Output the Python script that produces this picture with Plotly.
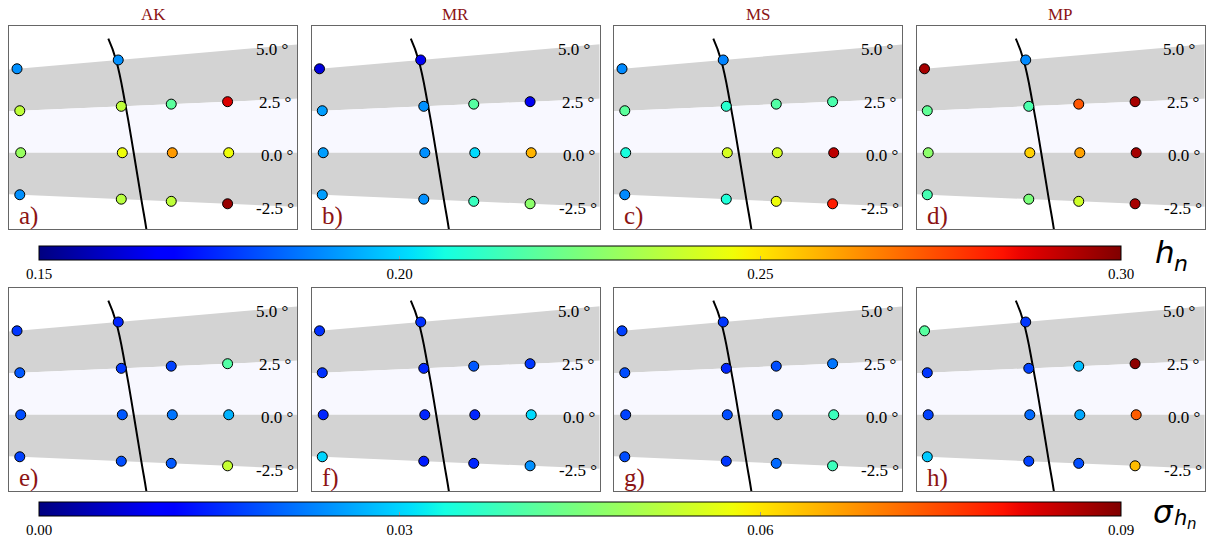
import numpy as np
import plotly.graph_objects as go

# ---- data -------------------------------------------------------------
models = ["AK", "MR", "MS", "MP"]
panel_tags_top = ["a)", "b)", "c)", "d)"]
panel_tags_bot = ["e)", "f)", "g)", "h)"]

# station grid: latitude (deg) and radial distance of every station
station_lat = [5.0, 2.5, 0.0, -2.5, 5.0, 2.5, 0.0, -2.5, 2.5, 0.0, -2.5, 2.5, 0.0, -2.5]
station_r = [9.667, 9.667, 9.667, 9.667, 10.683, 10.683, 10.683, 10.683,
             11.183, 11.183, 11.183, 11.747, 11.747, 11.747]

# h_n per model
hn_AK = [0.190, 0.237, 0.230, 0.190, 0.190, 0.237, 0.246, 0.236, 0.219, 0.262, 0.237, 0.288, 0.246, 0.297]
hn_MR = [0.162, 0.192, 0.192, 0.192, 0.165, 0.190, 0.190, 0.190, 0.218, 0.201, 0.213, 0.165, 0.258, 0.228]
hn_MS = [0.189, 0.219, 0.207, 0.189, 0.188, 0.210, 0.2415, 0.208, 0.2175, 0.2415, 0.246, 0.216, 0.292, 0.282]
hn_MP = [0.295, 0.220, 0.228, 0.215, 0.189, 0.216, 0.2535, 0.225, 0.273, 0.261, 0.240, 0.295, 0.295, 0.295]

# sigma(h_n) per model
sig_AK = [0.016, 0.019, 0.018, 0.017, 0.0145, 0.016, 0.019, 0.018, 0.017, 0.0215, 0.019, 0.0405, 0.027, 0.053]
sig_MR = [0.0155, 0.0155, 0.0145, 0.030, 0.0155, 0.0145, 0.0145, 0.0135, 0.019, 0.0145, 0.0145, 0.016, 0.0305, 0.024]
sig_MS = [0.017, 0.018, 0.017, 0.018, 0.016, 0.0145, 0.018, 0.016, 0.018, 0.020, 0.0205, 0.0215, 0.038, 0.038]
sig_MP = [0.041, 0.016, 0.017, 0.029, 0.016, 0.017, 0.0205, 0.017, 0.028, 0.026, 0.018, 0.089, 0.073, 0.064]

# reference curve (latitude, radial distance)
curve_lat = [6.2, 5.0, 2.5, 0.0, -2.5, -4.0, -5.5]
curve_r = [10.605, 10.662, 10.727, 10.797, 10.885, 10.950, 11.015]

# latitude circles labelled on the map and band edges
lat_ticks = [5.0, 2.5, 0.0, -2.5]
lat_tick_text = ["5.0 °", "2.5 °", "0.0 °", "-2.5 °"]

hn_ticks = [0.15, 0.20, 0.25, 0.30]
sig_ticks = [0.00, 0.03, 0.06, 0.09]

# ---- styling ----------------------------------------------------------
W, H = 1212, 543
SERIF = "Liberation Serif"
DARKRED = "rgb(140,20,20)"

# matplotlib-style jet colour map
def jet_scale(n=65):
    t = np.linspace(0, 1, n)
    r = np.interp(t, [0, 0.35, 0.66, 0.89, 1], [0, 0, 1, 1, 0.5])
    g = np.interp(t, [0, 0.125, 0.375, 0.64, 0.91, 1], [0, 0, 1, 1, 0, 0])
    b = np.interp(t, [0, 0.11, 0.34, 0.65, 1], [0.5, 1, 1, 0, 0])
    return [[float(ti), f"rgb({int(round(ri*255))},{int(round(gi*255))},{int(round(bi*255))})"]
            for ti, ri, gi, bi in zip(t, r, g, b)]

JET = jet_scale()

panel_left = [9, 311.5, 614, 916.5]
panel_w = 288
row_top = [26, 289]
panel_h = 204
x_range = [9.55, 12.43]
y_range = [-0.767, 1.273]


def polar_xy(r, lat):
    th = np.deg2rad(np.asarray(lat, dtype=float))
    r = np.asarray(r, dtype=float)
    return r * np.cos(th), r * np.sin(th)


fig = go.Figure()

rows = [
    (models, [hn_AK, hn_MR, hn_MS, hn_MP], panel_tags_top, "coloraxis"),
    (models, [sig_AK, sig_MR, sig_MS, sig_MP], panel_tags_bot, "coloraxis2"),
]

annotations = []
k = 0
for ri, (names, vals, tags, cax) in enumerate(rows):
    for ci in range(4):
        k += 1
        xa = "x" if k == 1 else f"x{k}"
        ya = "y" if k == 1 else f"y{k}"

        # latitude bands
        bands = [(2.5, 5.0, "rgb(211,211,211)"), (0.0, 2.5, "rgb(248,248,255)"),
                 (-2.5, 0.0, "rgb(211,211,211)")]
        for lo, hi, col in bands:
            rr = [8.5, 13.5, 13.5, 8.5, 8.5]
            ll = [lo, lo, hi, hi, lo]
            bx, by = polar_xy(rr, ll)
            fig.add_trace(go.Scatter(x=bx, y=by, xaxis=xa, yaxis=ya, mode="lines",
                                     fill="toself", fillcolor=col, line=dict(width=0),
                                     hoverinfo="skip", showlegend=False))

        # reference curve
        cx, cy = polar_xy(curve_r, curve_lat)
        fig.add_trace(go.Scatter(x=cx, y=cy, xaxis=xa, yaxis=ya, mode="lines",
                                 line=dict(color="black", width=2, shape="spline",
                                           smoothing=1.3),
                                 hoverinfo="skip", showlegend=False))

        # stations
        sx, sy = polar_xy(station_r, station_lat)
        fig.add_trace(go.Scatter(x=sx, y=sy, xaxis=xa, yaxis=ya, mode="markers",
                                 marker=dict(size=10, color=vals[ci], coloraxis=cax,
                                             line=dict(color="black", width=1)),
                                 showlegend=False))

        # latitude labels
        for lat, txt in zip(lat_ticks, lat_tick_text):
            lx, ly = polar_xy(12.225, lat)
            annotations.append(dict(x=float(lx), y=float(ly), xref=xa, yref=ya, text=txt,
                                    showarrow=False, yshift=-3,
                                    font=dict(family=SERIF, size=17, color="black")))

        x0 = panel_left[ci] / W
        x1 = (panel_left[ci] + panel_w) / W
        y1 = 1 - row_top[ri] / H
        y0 = 1 - (row_top[ri] + panel_h) / H
        axis_common = dict(showgrid=False, zeroline=False, showticklabels=False, ticks="",
                           showline=True, mirror=True, linecolor="#666", linewidth=1)
        fig.layout[f"xaxis{'' if k == 1 else k}"] = dict(domain=[x0, x1], range=x_range,
                                                          anchor=ya, **axis_common)
        fig.layout[f"yaxis{'' if k == 1 else k}"] = dict(domain=[y0, y1], range=y_range,
                                                          anchor=xa, **axis_common)

        # panel tag
        annotations.append(dict(x=(panel_left[ci] + 8) / W, y=1 - (row_top[ri] + 191) / H,
                                xref="paper", yref="paper", xanchor="left", yanchor="middle",
                                text=tags[ci], showarrow=False,
                                font=dict(family=SERIF, size=25, color=DARKRED)))
        # model title
        if ri == 0:
            annotations.append(dict(x=(panel_left[ci] + panel_w / 2) / W, y=1 - 15 / H,
                                    xref="paper", yref="paper", xanchor="center",
                                    yanchor="middle", text=names[ci], showarrow=False,
                                    font=dict(family=SERIF, size=17, color=DARKRED)))


def cbar(top_px, ticks):
    return dict(orientation="h", x=39 / W, xanchor="left", y=1 - top_px / H, yanchor="top",
                len=1082, lenmode="pixels", thickness=14, thicknessmode="pixels",
                xpad=0, ypad=0, outlinecolor="black", outlinewidth=1,
                tickvals=ticks, ticktext=[f"{t:.2f}" for t in ticks],
                ticks="inside", ticklen=4, tickcolor="#999",
                tickfont=dict(family=SERIF, size=15, color="black"))


fig.update_layout(
    coloraxis=dict(colorscale=JET, cmin=hn_ticks[0], cmax=hn_ticks[-1],
                   colorbar=cbar(247, hn_ticks)),
    coloraxis2=dict(colorscale=JET, cmin=sig_ticks[0], cmax=sig_ticks[-1],
                    colorbar=cbar(504, sig_ticks)),
)

# colour bar titles
MATH = "DejaVu Sans"
annotations.append(dict(x=1153 / W, y=1 - 253 / H, xref="paper", yref="paper",
                        xanchor="left", yanchor="middle", showarrow=False,
                        text="<i>h</i>", font=dict(family=MATH, size=31, color="black")))
annotations.append(dict(x=1172 / W, y=1 - 264 / H, xref="paper", yref="paper",
                        xanchor="left", yanchor="middle", showarrow=False,
                        text="<i>n</i>", font=dict(family=MATH, size=22, color="black")))
annotations.append(dict(x=1151 / W, y=1 - 514 / H, xref="paper", yref="paper",
                        xanchor="left", yanchor="middle", showarrow=False,
                        text="<i>σ</i>", font=dict(family=MATH, size=31, color="black")))
annotations.append(dict(x=1172 / W, y=1 - 520 / H, xref="paper", yref="paper",
                        xanchor="left", yanchor="middle", showarrow=False,
                        text="<i>h</i>", font=dict(family=MATH, size=21, color="black")))
annotations.append(dict(x=1185 / W, y=1 - 526 / H, xref="paper", yref="paper",
                        xanchor="left", yanchor="middle", showarrow=False,
                        text="<i>n</i>", font=dict(family=MATH, size=15, color="black")))

fig.update_layout(width=W, height=H, margin=dict(l=0, r=0, t=0, b=0),
                  paper_bgcolor="white", plot_bgcolor="white",
                  annotations=annotations, showlegend=False)

fig.write_html("out.html")
